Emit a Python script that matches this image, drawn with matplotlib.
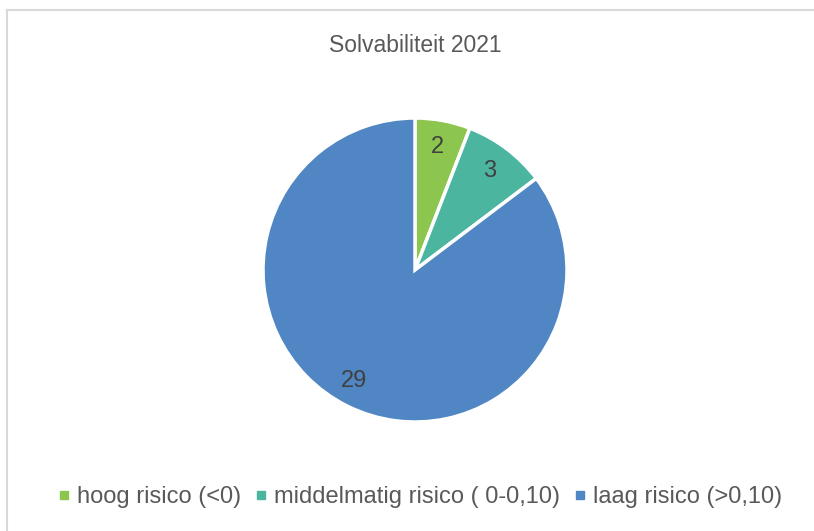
import matplotlib
matplotlib.use("Agg")
import matplotlib.pyplot as plt
from matplotlib.lines import Line2D
import numpy as np

plt.rcParams['font.family'] = ['Liberation Sans', 'DejaVu Sans']

title = "Solvabiliteit 2021"
categories = ["hoog risico (<0)", "middelmatig risico ( 0-0,10)", "laag risico (>0,10)"]
values = [2, 3, 29]
colors = ["#8CC64F", "#4BB5A0", "#4F86C3"]
text_color = "#404040"

fig = plt.figure(figsize=(8.14, 5.31), dpi=100)
fig.patch.set_facecolor("white")

# chart-area border (light grey)
fig.add_artist(plt.Line2D([7/814, 813/814], [1-10/531, 1-10/531], color="#D9D9D9", lw=1.5))
fig.add_artist(plt.Line2D([7/814, 7/814], [1-10/531, 0], color="#D9D9D9", lw=1.5))

# pie: center (415,270), radius 152 px
r = 152
cx, cy = 415, 270
ax = fig.add_axes([(cx - r) / 814, 1 - (cy + r) / 531, 2 * r / 814, 2 * r / 531])
wedges, texts, autotexts = ax.pie(
    values, colors=colors, startangle=90, counterclock=False,
    wedgeprops=dict(edgecolor="white", linewidth=2.5),
    autopct=lambda p: f"{round(p * sum(values) / 100):d}",
    pctdistance=0.82, textprops=dict(fontsize=17, color=text_color))
ax.set_aspect("equal")
ax.set_xlim(-1, 1)
ax.set_ylim(-1, 1)

# Excel places the large slice's label off its centre line
ang = np.deg2rad(-118.8)
autotexts[2].set_position((0.83 * np.cos(ang), 0.83 * np.sin(ang)))

fig.text(415 / 814, 1 - 45 / 531, title, ha="center", va="center", fontsize=16.5, color="#595959")

handles = [Line2D([0], [0], marker="s", linestyle="none", markersize=6,
                  markerfacecolor=c, markeredgecolor=c) for c in colors]
fig.legend(handles, categories, loc="center", bbox_to_anchor=(420 / 814, 1 - 497 / 531),
           ncol=3, frameon=False, fontsize=17, labelcolor="#595959",
           handlelength=0.5, handletextpad=0.3, columnspacing=0.6)

fig.savefig("out.png", dpi=100, facecolor="white")
